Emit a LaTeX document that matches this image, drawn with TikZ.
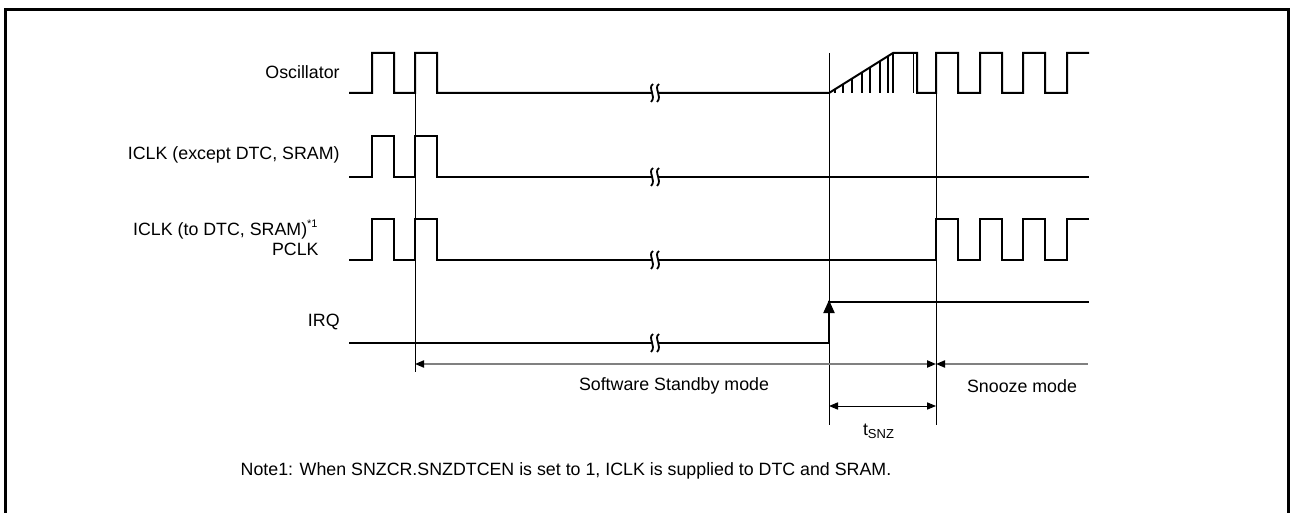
\documentclass[tikz,border=0pt]{standalone}
\usepackage{fontspec}
\setmainfont{Liberation Sans}
\usetikzlibrary{arrows.meta}
\begin{document}
\begin{tikzpicture}[x=0.5pt,y=-0.5pt,
  sig/.style={line width=1pt, line join=miter, line cap=rect},
  hatch/.style={line width=0.9pt},
  thinline/.style={line width=0.5pt},
  lbl/.style={font=\fontsize{8.9}{10.7}\selectfont, inner sep=0pt},
  grayarrow/.style={line width=0.75pt, draw=black!50},
  tri/.tip={Triangle[length=4.5pt,width=3.6pt,color=black]},
  brk/.style={line width=0.9pt}
]
\useasboundingbox (0,0) rectangle (1290,513);
% frame
\draw[line width=1.5pt] (5.5,513) -- (5.5,9.5) -- (1288.5,9.5) -- (1288.5,513);

% labels
\node[lbl, anchor=east] (osc) at (340,72) {Oscillator};
\node[lbl, anchor=east] (iex) at (340,155) {ICLK (except DTC, SRAM)};
\node[lbl, anchor=base east] (ito) at (319,235) {ICLK (to DTC, SRAM)\textsuperscript{\fontsize{5.5}{6}\selectfont *1}};
\node[lbl, anchor=base east] (pclk) at (319,255.5) {PCLK};
\node[lbl, anchor=east] (irq) at (340,322) {IRQ};

% thin vertical reference lines
\coordinate (v1t) at (415,93);  \coordinate (v1b) at (415,372);
\coordinate (v2t) at (829,53);  \coordinate (v2b) at (829,425);
\coordinate (v3t) at (936,93);  \coordinate (v3b) at (936,425);
\draw[thinline] (v1t) -- (v1b);
\draw[thinline] (v2t) -- (v2b);
\draw[thinline] (v3t) -- (v3b);

% Oscillator
\draw[sig] (350,93) -| (372,53) -| (394,93) -| (415,53) -| (437,93) -- (829,93) -- (893,53)
  -| (917,93) -| (936,53) -| (958,93) -| (980,53) -| (1002,93) -| (1023,53) -| (1045,93) -| (1067,53) -- (1088,53);
\foreach \x in {835,843,852,862,870,880,888,893}{
  \draw[hatch] (\x,93) -- (\x,{93-40*(\x-829)/64});
}
\draw[hatch] (913.5,53) -- (913.5,93);

% ICLK (except DTC, SRAM)
\draw[sig] (350,177) -| (372,136) -| (394,177) -| (415,136) -| (437,177) -- (1088,177);

% ICLK (to DTC, SRAM) / PCLK
\draw[sig] (350,260) -| (372,219) -| (394,260) -| (415,219) -| (437,260) -- (936,260)
  -- (936,219) -| (958,260) -| (980,219) -| (1002,260) -| (1023,219) -| (1045,260) -| (1067,219) -- (1088,219);

% IRQ
\coordinate (irqlow) at (829,343);
\coordinate (irqhigh) at (829,300);
\draw[sig] (350,343) -- (irqlow);
\draw[sig, -{Triangle[length=6.5pt,width=5.5pt]}] (irqlow) -- (irqhigh);
\draw[sig] (829,302) -- (1088,302);

% break marks
\foreach \y in {93,177,260,343}{
  \fill[white] (651.5,\y-3) rectangle (658.5,\y+3);
  \draw[brk] (653,\y-9) .. controls (647,\y-5) and (657,\y+3) .. (651,\y+9);
  \draw[brk] (659,\y-9) .. controls (653,\y-5) and (663,\y+3) .. (657,\y+9);
}

% mode arrows
\coordinate (sl) at (415,364);
\coordinate (sr) at (936,364);
\coordinate (ze) at (1088,364);
\draw[grayarrow, {tri}-{tri}] (sl) -- (sr);
\draw[grayarrow, {tri}-] (sr) -- (ze);
\node[lbl] (ssm) at (674,386) {Software Standby mode};
\node[lbl] (snz) at (1022,386) {Snooze mode};

% tSNZ
\coordinate (tl) at (829,406);
\coordinate (tr) at (936,406);
\draw[thinline, {tri}-{tri}] (tl) -- (tr);
\node[lbl] (tsnz) at (879,431) {t\textsubscript{\fontsize{6.5}{7}\selectfont SNZ}};

% note
\node[lbl] (note) at (566,471) {Note1: When SNZCR.SNZDTCEN is set to 1, ICLK is supplied to DTC and SRAM.};
\end{tikzpicture}
\end{document}
